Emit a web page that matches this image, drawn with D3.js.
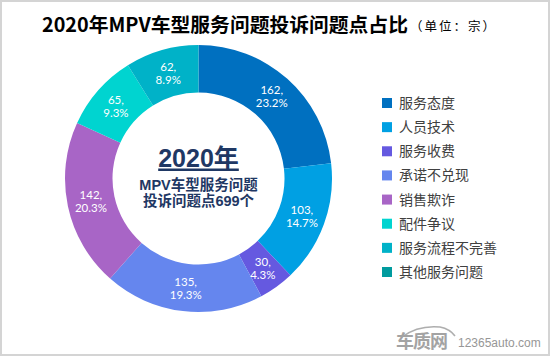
<!DOCTYPE html>
<html><head><meta charset="utf-8">
<script src="https://cdn.jsdelivr.net/npm/d3@7"></script>
<style>
html,body{margin:0;padding:0;background:#fff;}
svg{display:block;}
</style></head>
<body>
<svg id="chart" width="550" height="356"></svg>
<script>
const categories = ["服务态度","人员技术","服务收费","承诺不兑现","销售欺诈","配件争议","服务流程不完善","其他服务问题"];
const values = [162,103,30,135,142,65,62,0];
const colors = ["#0070C0","#00A0E3","#6559E0","#6586EE","#A865C6","#00D4D0","#00B2C8","#009B9E"];
const titleText = "2020年MPV车型服务问题投诉问题点占比";
const unitText = "（单位：宗）";
const centerLines = ["2020年","MPV车型服务问题","投诉问题点699个"];

const svg = d3.select("#chart");
const W = 550, H = 356;
const cjk = "'Noto Sans CJK SC','Noto Sans',sans-serif";
const mixed = "'Liberation Sans','Noto Sans CJK SC',sans-serif";

svg.append("rect").attr("x",1).attr("y",1).attr("width",W-2).attr("height",H-2)
  .attr("fill","#fff").attr("stroke","#d4d4d4").attr("stroke-width",2);

// title
const t = svg.append("text").attr("x",42).attr("y",32).attr("font-family",cjk).attr("fill","#000");
t.append("tspan").attr("font-size",19.8).attr("font-weight","bold").text(titleText);
t.append("tspan").attr("font-size",12.5).attr("dx",2).attr("dy",-1).attr("letter-spacing",2).text(unitText);

const cx = 198.5, cy = 178.5, rOut = 133.5, rIn = 86;
const total = d3.sum(values);
const pie = d3.pie().sort(null).value(d=>d)(values);
const arc = d3.arc().innerRadius(rIn).outerRadius(rOut);
const labelArc = d3.arc().innerRadius(110).outerRadius(110);

const g = svg.append("g").attr("transform",`translate(${cx},${cy})`);
g.selectAll("path.slice").data(pie).join("path").attr("class","slice")
  .attr("d",arc).attr("fill",(d,i)=>colors[i]);

const lab = g.selectAll("text.lab").data(pie.filter(d=>d.value>0)).join("text").attr("class","lab")
  .attr("transform",d=>`translate(${labelArc.centroid(d)})`)
  .attr("text-anchor","middle").attr("fill","#fff")
  .attr("font-family","Lato,'Noto Sans',sans-serif").attr("font-size",11.5);
lab.append("tspan").attr("x",0).attr("dy",-2).text(d=>d.value+",");
lab.append("tspan").attr("x",0).attr("dy",13).text(d=>(d.value/total*100).toFixed(1)+"%");

// center text
const navy = "#1F3864";
g.append("text").attr("x",0).attr("y",-12).attr("text-anchor","middle")
  .attr("font-family",mixed).attr("font-weight","bold").attr("font-size",25).attr("fill",navy)
  .attr("text-decoration","underline").text(centerLines[0]);
g.append("text").attr("x",0).attr("y",11).attr("text-anchor","middle")
  .attr("font-family",mixed).attr("font-weight","bold").attr("font-size",14.5).attr("fill",navy).text(centerLines[1]);
g.append("text").attr("x",0).attr("y",27.5).attr("text-anchor","middle")
  .attr("font-family",mixed).attr("font-weight","bold").attr("font-size",14.5).attr("fill",navy).text(centerLines[2]);

// legend
const leg = svg.append("g");
const ly = d3.scalePoint().domain(categories).range([103,272]);
const items = leg.selectAll("g").data(categories).join("g")
  .attr("transform",d=>`translate(382,${ly(d)})`);
items.append("rect").attr("x",0).attr("y",-5).attr("width",10).attr("height",10).attr("fill",(d,i)=>colors[i]);
items.append("text").attr("x",17).attr("y",5).attr("font-family",cjk).attr("font-size",14)
  .attr("fill","#404040").text(d=>d);

// watermark
const wm = svg.append("g").attr("opacity",0.9);
wm.append("path").attr("d","M402,337 Q418,325 440,327 Q450,329 455,336").attr("fill","none").attr("stroke","#a6a6a6").attr("stroke-width",1.5);
wm.append("text").attr("x",396).attr("y",348).attr("font-family",cjk).attr("font-weight","bold")
  .attr("font-size",18).attr("fill","#9a9a9a").attr("letter-spacing",-1).text("车质网");
wm.append("text").attr("x",458).attr("y",347).attr("font-family","Arial,'Liberation Sans',sans-serif")
  .attr("font-size",12).attr("fill","#8c8c8c").text("12365auto.com");
</script>
</body></html>
